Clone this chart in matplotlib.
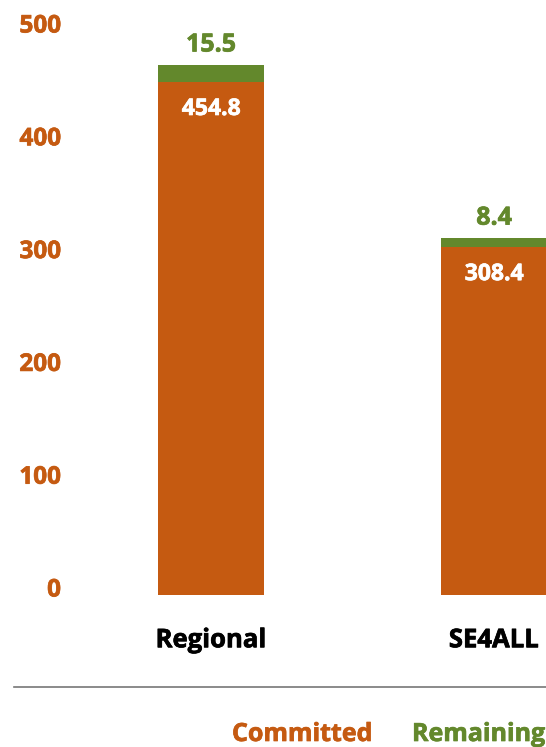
import matplotlib
matplotlib.use("Agg")
import matplotlib.pyplot as plt
import matplotlib.patheffects as pe
from matplotlib.lines import Line2D
from matplotlib.transforms import ScaledTranslation

# Données du graphique
categories = ['Regional', 'SE4ALL']
committed = [454.8, 308.4]
remaining = [15.5, 8.4]
series_names = ['Committed', 'Remaining']
y_ticks = [0, 100, 200, 300, 400, 500]

ORANGE = '#C55A11'
GREEN = '#63882C'


def gras(color):
    # Épaissit légèrement le texte pour se rapprocher du rendu de référence
    return [pe.withStroke(linewidth=0.5, foreground=color)]


plt.rcParams['font.family'] = ['Open Sans', 'DejaVu Sans']
plt.rcParams['font.weight'] = 'bold'

W, H = 546, 747
fig = plt.figure(figsize=(W / 100, H / 100), dpi=100)

# Axes placés en pixels : 0 à y=595, 500 à y=31 (depuis le haut)
left_px, right_px = 70, 546
bottom_px, top_px = 595, 31
ax = fig.add_axes([left_px / W, 1 - bottom_px / H,
                   (right_px - left_px) / W, (bottom_px - top_px) / H])

x = list(range(len(categories)))
unit = 283  # pixels entre les deux barres
width = 106 / unit
ax.bar(x, committed, width=width, color=ORANGE)
ax.bar(x, remaining, width=width, bottom=committed, color=GREEN)

ax.set_xlim((left_px - 211) / unit, (right_px - 211) / unit)
ax.set_ylim(0, 500)

for xi, c, r in zip(x, committed, remaining):
    ax.annotate(f'{r}', xy=(xi, c + r), xytext=(0, 13), textcoords='offset pixels',
                ha='center', va='baseline', color=GREEN, fontsize=18, fontweight='bold',
                annotation_clip=False, path_effects=gras(GREEN))
    ax.annotate(f'{c}', xy=(xi, c), xytext=(0, -33), textcoords='offset pixels',
                ha='center', va='baseline', color='white', fontsize=16.5, fontweight='bold',
                path_effects=gras('white'))

ax.set_yticks(y_ticks)
ax.set_yticklabels([str(t) for t in y_ticks], color=ORANGE, fontsize=17.5, fontweight='bold')
ax.set_xticks(x)
ax.set_xticklabels(categories, color='black', fontsize=18.5, fontweight='bold')
ax.tick_params(axis='y', length=0, pad=6.5)
ax.tick_params(axis='x', length=0, pad=22.5)
shift = ScaledTranslation(0, 7.5 / 100, fig.dpi_scale_trans)
for lab in ax.get_yticklabels():
    lab.set_transform(lab.get_transform() + shift)
    lab.set_path_effects(gras(ORANGE))
for lab in ax.get_xticklabels():
    lab.set_path_effects(gras('black'))

for s in ax.spines.values():
    s.set_visible(False)

# Ligne de séparation
fig.add_artist(Line2D([14 / W, 1], [1 - 687 / H, 1 - 687 / H], color='#777777', linewidth=1.2))

# Légende en texte coloré
for name, col, xpx in zip(series_names, [ORANGE, GREEN], [232, 412]):
    fig.text(xpx / W, 1 - 741 / H, name, color=col, fontsize=18, fontweight='bold',
             ha='left', va='baseline', path_effects=gras(col))

fig.savefig('out.png', dpi=100)
